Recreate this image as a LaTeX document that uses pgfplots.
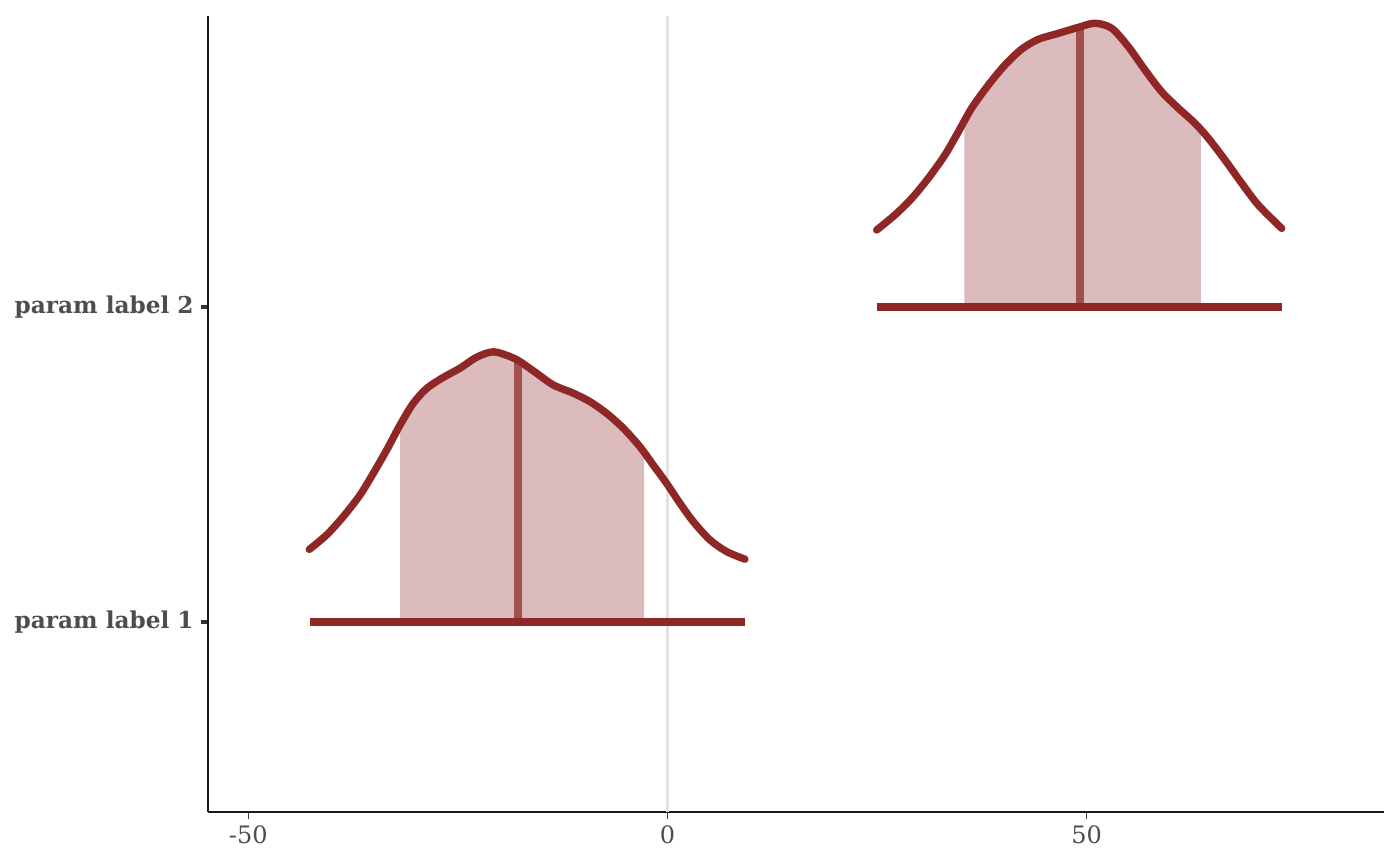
\documentclass[border=0pt]{standalone}
\usepackage{pgfplots}
\pgfplotsset{compat=1.18}
\usepackage{fontspec}
\setmainfont{DejaVu Serif}
\definecolor{dens}{HTML}{8F2727}
\definecolor{shade}{HTML}{DCBBBC}
\definecolor{med}{HTML}{A24F50}
\definecolor{txt}{HTML}{4D4D4D}
\definecolor{zero}{HTML}{E3E3E3}

\begin{document}
\begin{tikzpicture}
\useasboundingbox (-103.85pt,-27.15pt) rectangle (596.15pt,405.85pt);
\begin{axis}[
  at={(0,0)}, anchor=south west,
  scale only axis, width=588.15pt, height=397.85pt,
  xmin=-54.84, xmax=85.46, ymin=0.4, ymax=2.921,
  axis lines*=left,
  axis line style={line width=1pt, color=black!90},
  xtick={-50,0,50}, xticklabels={-50,0,50},
  ytick={1,2}, yticklabels={param label 1, param label 2},
  tick align=outside,
  major tick length=3.5pt,
  xtick style={line width=0.5pt, color=black!75},
  ytick style={line width=2pt, color=black!80},
  xticklabel style={font=\fontsize{12}{14}\selectfont, text=txt},
  yticklabel style={font=\fontsize{11.6}{14}\selectfont\bfseries, text=txt},
  clip=false,
]
% reference line at zero
\addplot[zero, line width=1.2pt] coordinates {(0,0.4) (0,2.921)};

% shaded central intervals (curve between the interval bounds, closed to the baseline)
\addplot[fill=shade, draw=none, smooth] coordinates {
  (-31.90,1.625) (-30.32,1.694) (-28.72,1.741) (-26.74,1.776) (-24.75,1.805)
  (-22.76,1.840) (-20.78,1.857) (-18.79,1.842) (-17.59,1.826) (-15.60,1.789)
  (-13.62,1.752) (-11.24,1.726) (-9.24,1.699) (-7.25,1.662) (-5.27,1.615)
  (-3.28,1.556) (-2.80,1.549)} -- (axis cs:-2.80,1) -- (axis cs:-31.90,1) -- cycle;
\addplot[fill=shade, draw=none, smooth] coordinates {
  (35.40,2.588) (36.28,2.629) (38.26,2.702) (40.26,2.766) (42.25,2.816)
  (44.23,2.847) (46.61,2.866) (49.00,2.885) (50.99,2.898) (52.98,2.882)
  (54.96,2.824) (56.95,2.750) (58.94,2.681) (60.93,2.629) (62.92,2.581)
  (63.63,2.574)} -- (axis cs:63.63,2) -- (axis cs:35.40,2) -- cycle;

% medians
\addplot[med, line width=3.9pt] coordinates {(-17.87,1) (-17.87,1.83)};
\addplot[med, line width=3.9pt] coordinates {(49.20,2) (49.20,2.885)};

% density outlines
\addplot[dens, line width=3.7pt, smooth, line cap=round] coordinates {
  (-42.72,1.231) (-40.65,1.277) (-38.67,1.335) (-36.68,1.403) (-35.09,1.472)
  (-33.49,1.546) (-31.90,1.625) (-30.32,1.694) (-28.72,1.741) (-26.74,1.776)
  (-24.75,1.805) (-22.76,1.840) (-20.78,1.857) (-18.79,1.842) (-17.59,1.826)
  (-15.60,1.789) (-13.62,1.752) (-11.24,1.726) (-9.24,1.699) (-7.25,1.662)
  (-5.27,1.615) (-3.28,1.556) (-1.69,1.498) (-0.10,1.440) (1.49,1.377)
  (3.08,1.319) (5.07,1.261) (7.06,1.224) (9.24,1.200)};
\addplot[dens, line width=3.7pt, smooth, line cap=round] coordinates {
  (24.95,2.243) (27.14,2.291) (29.13,2.343) (31.11,2.407) (33.10,2.481)
  (34.69,2.554) (36.28,2.629) (38.26,2.702) (40.26,2.766) (42.25,2.816)
  (44.23,2.847) (46.61,2.866) (49.00,2.885) (50.99,2.898) (52.98,2.882)
  (54.96,2.824) (56.95,2.750) (58.94,2.681) (60.93,2.629) (62.92,2.581)
  (64.50,2.534) (66.49,2.465) (68.49,2.391) (70.47,2.322) (73.26,2.248)};

% baselines
\addplot[dens, line width=4pt] coordinates {(-42.64,1) (9.24,1)};
\addplot[dens, line width=4pt] coordinates {(24.95,2) (73.26,2)};
\end{axis}
\end{tikzpicture}
\end{document}
